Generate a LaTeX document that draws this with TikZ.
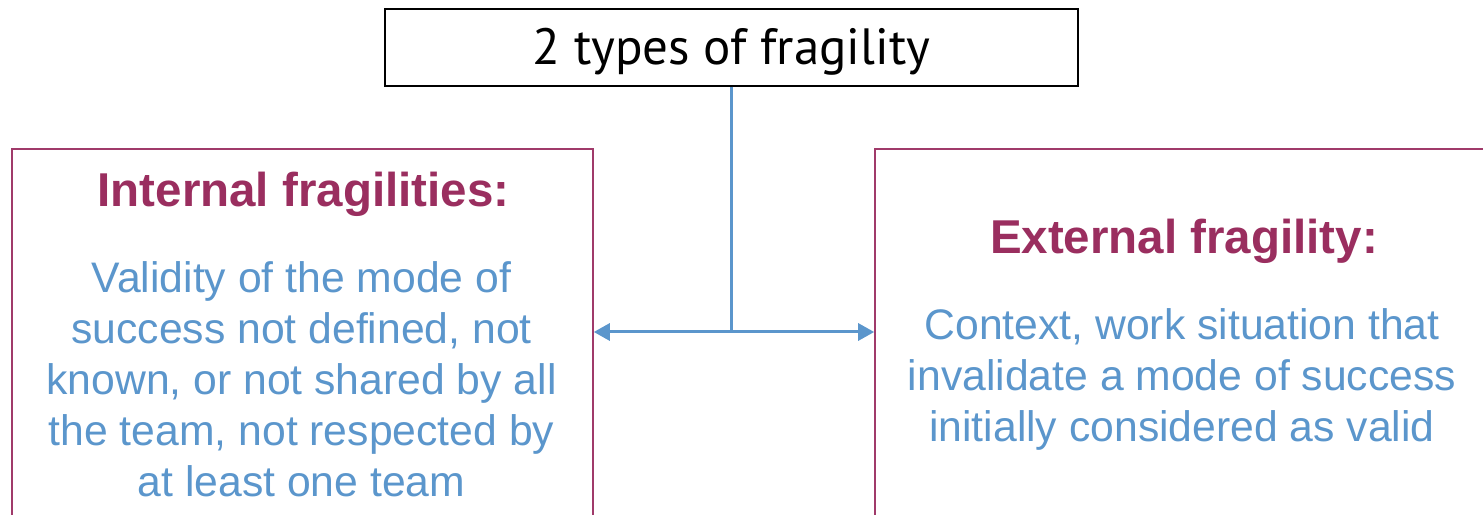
\documentclass[tikz,border=0pt]{standalone}
\usepackage{fontspec}
\setmainfont{Liberation Sans}
\newfontfamily\topfont{PT Sans}
\usetikzlibrary{arrows.meta}
\definecolor{boxred}{HTML}{A03A6A}
\definecolor{titlered}{HTML}{9A2E5F}
\definecolor{bodyblue}{HTML}{5B96CC}
\definecolor{linkblue}{HTML}{5B96CC}
\tikzset{
  x=1pt,y=1pt,
  topbox/.style={draw=black, line width=1.5pt, minimum width=693pt, minimum height=77pt, inner sep=0pt, text height=38pt, text depth=3pt, font=\topfont\fontsize{51}{56}\selectfont},
  fragbox/.style={draw=boxred, line width=1.6pt, inner sep=0pt},
  titletext/.style={text=titlered, font=\bfseries\fontsize{47.5}{52}\selectfont, inner sep=0pt},
  bodytext/.style={text=bodyblue, font=\fontsize{42.7}{51}\selectfont, align=center, inner sep=0pt},
  link/.style={draw=linkblue, line width=3pt},
}
\begin{document}
\begin{tikzpicture}
\useasboundingbox (0,0) rectangle (1483,514);
\clip (0,0) rectangle (1483,514);
\fill[white] (0,0) rectangle (1483,514);
\node[topbox] (top) at (731.5,466.5) {2 types of fragility};
\node[fragbox, minimum width=581pt, minimum height=395pt] (left) at (302.5,167.5) {};
\node[fragbox, minimum width=640pt, minimum height=395pt] (right) at (1195,167.5) {};
\node[titletext, anchor=base] (lt) at (303.5,307) {Internal fragilities:};
\node[bodytext, anchor=north] (lb) at (301.5,253) {Validity of the mode of\\success not defined, not\\known, or not shared by all\\the team, not respected by\\at least one team};
\node[titletext, anchor=base] (rt) at (1184,260) {External fragility:};
\node[bodytext, anchor=north] (rb) at (1182,205.5) {Context, work situation that\\invalidate a mode of success\\initially considered as valid};
\coordinate (j) at (top.south |- 0,182);
\draw[link] (top.south) -- (j);
\draw[link, {Triangle[length=16pt,width=17pt]}-{Triangle[length=16pt,width=17pt]}] (left.east |- j) -- (right.west |- j);
\end{tikzpicture}
\end{document}
